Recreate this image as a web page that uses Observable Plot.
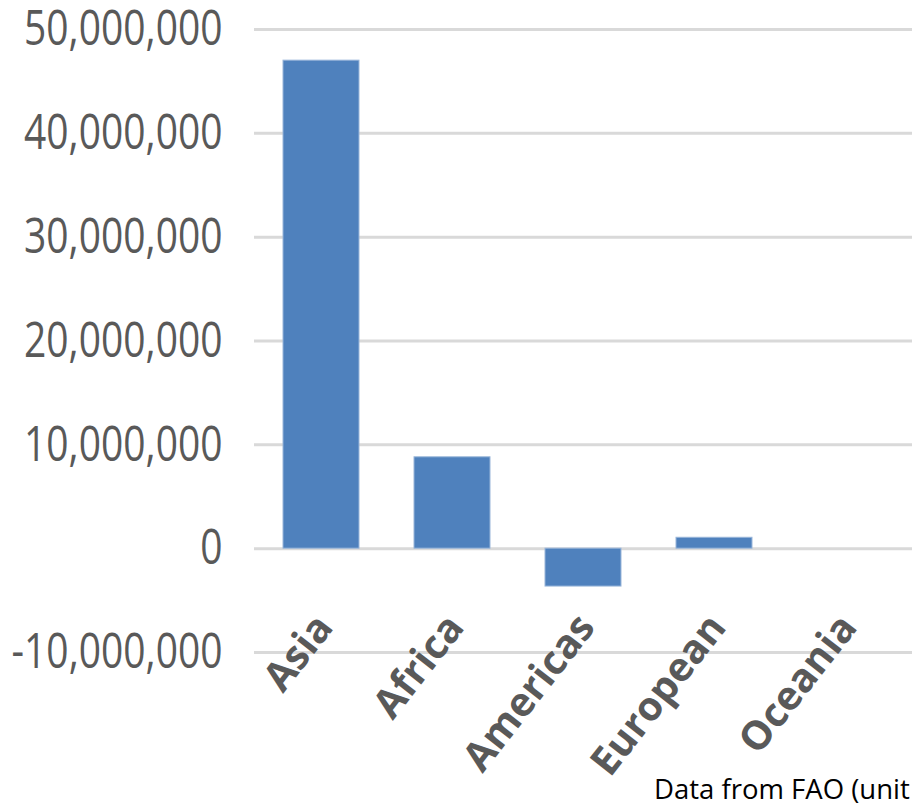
<!DOCTYPE html>
<html>
<head>
<meta charset="utf-8">
<script src="https://cdn.jsdelivr.net/npm/d3@7"></script>
<script src="https://cdn.jsdelivr.net/npm/@observablehq/plot@0.6"></script>
<style>
  html, body { margin: 0; padding: 0; background: #fff; overflow: hidden; }
  #chart svg { overflow: visible; }
  #caption {
    margin-left: 654px; height: 36px; line-height: 38px;
    font-family: "Open Sans", sans-serif; font-size: 27.5px; color: #000;
    white-space: nowrap;
  }
</style>
</head>
<body>
<div id="chart"></div>
<div id="caption">Data from FAO (unit</div>
<script>
const regions = ["Asia", "Africa", "Americas", "European", "Oceania"];
const values = [47000000, 8800000, -3650000, 1050000, 0];
const yTicks = [-10000000, 0, 10000000, 20000000, 30000000, 40000000, 50000000];

const data = regions.map((r, i) => ({region: r, value: values[i]}));
const fmt = d3.formatLocale({decimal: ".", thousands: ",", grouping: [3], currency: ["$", ""], minus: "-"}).format(",");

const plot = Plot.plot({
  width: 912,
  height: 770,
  marginTop: 29,
  marginBottom: 118,
  marginLeft: 254,
  marginRight: 0,
  style: {fontFamily: "Open Sans, sans-serif", background: "#fff", overflow: "visible"},
  x: {domain: regions, paddingInner: 0.42, paddingOuter: 0.21},
  y: {domain: [-10000000, 50000000]},
  marks: [
    Plot.gridY(yTicks, {stroke: "#d9d9d9", strokeOpacity: 1, strokeWidth: 3}),
    Plot.barY(data, {x: "region", y: "value", fill: "#4f81bd", stroke: "#9ab6da", strokeWidth: 1}),
    Plot.axisY(yTicks, {tickSize: 0, tickPadding: 32, fontSize: 49, color: "#595959", tickFormat: fmt, label: null}),
    Plot.axisX({tickSize: 0, tickRotate: -52, fontSize: 40, fontWeight: "bold", color: "#595959", label: null, dx: 3, dy: -44})
  ]
});
document.getElementById("chart").appendChild(plot);

// condense the y-axis labels horizontally (narrow, tall look of the reference)
const yLabels = d3.select(plot).selectAll('g[aria-label="y-axis tick label"] text');
let widest = 0;
yLabels.each(function() { widest = Math.max(widest, this.getComputedTextLength()); });
const s = 211 / widest;
yLabels.each(function() {
  const x0 = +(this.getAttribute("x") || 0);
  const t = this.getAttribute("transform") || "";
  this.setAttribute("transform", `${t} translate(${x0},0) scale(${s},1) translate(${-x0},0)`);
});
</script>
</body>
</html>
